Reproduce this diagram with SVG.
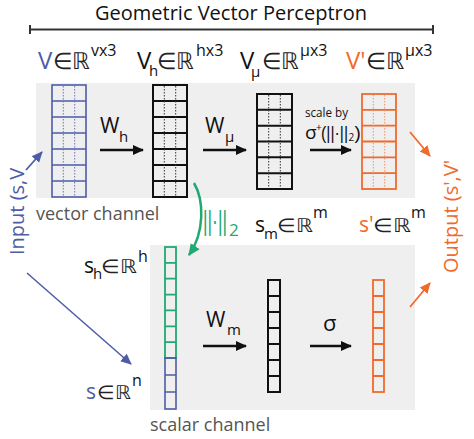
<svg xmlns="http://www.w3.org/2000/svg" width="474" height="439" viewBox="0 0 474 439">
<style>
text{font-family:"Open Sans","Liberation Sans",sans-serif;fill:#111}
.m{font-family:"DejaVu Sans",sans-serif;font-weight:200;fill:#222}
.bar{font-family:"Liberation Sans",sans-serif}
.blue{fill:#4e5ca6}.orange{fill:#f06a2c}.green{fill:#22a874}.gray{fill:#555}
.sup{font-size:16px}
.sub{font-size:15px}
.cellB{fill:none;stroke:#111;stroke-width:2}
.cellBl{fill:none;stroke:#4e5ca6;stroke-width:1.6}
.cellO{fill:none;stroke:#f06a2c;stroke-width:1.8}
.cellG{fill:none;stroke:#22a874;stroke-width:1.8}
.dotB{stroke:#333;stroke-width:1;stroke-dasharray:1.5,1.5}
.dotBl{stroke:#6b76b5;stroke-width:1;stroke-dasharray:1.5,1.5}
.dotO{stroke:#f4926a;stroke-width:1;stroke-dasharray:1.5,1.5}
.arr{stroke:#111;stroke-width:2.5;fill:none}
</style>
<defs>
<marker id="hk" markerUnits="userSpaceOnUse" markerWidth="12" markerHeight="12" refX="10" refY="5" orient="auto" viewBox="0 0 12 10"><path d="M0,0 L11,5 L0,10 Z" fill="#111"/></marker>
<marker id="hb" markerUnits="userSpaceOnUse" markerWidth="12" markerHeight="12" refX="10" refY="5" orient="auto" viewBox="0 0 12 10"><path d="M0,0 L11,5 L0,10 Z" fill="#4e5ca6"/></marker>
<marker id="ho" markerUnits="userSpaceOnUse" markerWidth="12" markerHeight="12" refX="10" refY="5" orient="auto" viewBox="0 0 12 10"><path d="M0,0 L11,5 L0,10 Z" fill="#f06a2c"/></marker>
<marker id="hg" markerUnits="userSpaceOnUse" markerWidth="13" markerHeight="13" refX="10" refY="5" orient="auto" viewBox="0 0 12 10"><path d="M0,0 L11,5 L0,10 Z" fill="#22a874"/></marker>
</defs>

<!-- title -->
<g id="title">
<text x="231" y="20" font-size="20" text-anchor="middle">Geometric Vector Perceptron</text>
<path d="M30,29.5 H433 M30,25 V34 M433,25 V34" stroke="#333" stroke-width="2" fill="none"/>
</g>

<!-- panels -->
<rect id="vector-panel" x="36" y="83" width="379" height="115" fill="#efefef"/>
<rect id="scalar-panel" x="150" y="245" width="265" height="165" fill="#efefef"/>
<text x="36" y="220" font-size="18" class="gray">vector channel</text>
<text x="150" y="431" font-size="18" class="gray">scalar channel</text>

<!-- V -->
<g id="V">
<rect class="cellBl" x="52" y="85" width="34" height="112"/>
<path class="cellBl" d="M52,101H86M52,117H86M52,133H86M52,149H86M52,165H86M52,181H86"/>
<path class="dotBl" d="M63.3,86V196M74.7,86V196"/>
<text x="38" y="69" font-size="24" class="blue">V</text>
<text x="53" y="69" font-size="23" class="m" textLength="37" lengthAdjust="spacingAndGlyphs">∈ℝ</text>
<text x="91" y="56" class="sup">vx3</text>
</g>

<!-- Vh -->
<g id="Vh">
<rect class="cellB" x="153" y="85" width="34" height="112"/>
<path class="cellB" d="M153,101H187M153,117H187M153,133H187M153,149H187M153,165H187M153,181H187"/>
<path class="dotB" d="M164.3,86V196M175.7,86V196"/>
<text y="69" font-size="24"><tspan x="137">V</tspan><tspan x="149" y="76" class="sub">h</tspan></text>
<text x="157" y="69" font-size="23" class="m" textLength="37" lengthAdjust="spacingAndGlyphs">∈ℝ</text>
<text x="196" y="56" class="sup">hx3</text>
</g>

<!-- Vmu -->
<g id="Vmu">
<rect class="cellB" x="257" y="94" width="35" height="95"/>
<path class="cellB" d="M257,109.8H292M257,125.7H292M257,141.5H292M257,157.3H292M257,173.2H292"/>
<path class="dotB" d="M268.7,95V188M280.3,95V188"/>
<text y="69" font-size="24"><tspan x="240">V</tspan><tspan x="251" y="77" class="sub">μ</tspan></text>
<text x="262" y="69" font-size="23" class="m" textLength="37" lengthAdjust="spacingAndGlyphs">∈ℝ</text>
<text x="300" y="56" class="sup">μx3</text>
</g>

<!-- V' -->
<g id="Vprime">
<rect class="cellO" x="362" y="94" width="34" height="95"/>
<path class="cellO" d="M362,109.8H396M362,125.7H396M362,141.5H396M362,157.3H396M362,173.2H396"/>
<path class="dotO" d="M373.3,95V188M384.7,95V188"/>
<text x="346" y="69" font-size="24" class="orange">V'</text>
<text x="366" y="69" font-size="23" class="m" textLength="38" lengthAdjust="spacingAndGlyphs">∈ℝ</text>
<text x="405" y="56" class="sup">μx3</text>
</g>

<!-- s_h -->
<g id="sh">
<rect class="cellG" x="165" y="247" width="11" height="111"/>
<path class="cellG" d="M165,262.9H176M165,278.7H176M165,294.6H176M165,310.4H176M165,326.3H176M165,342.1H176"/>
<text y="273" font-size="21"><tspan x="84">s</tspan><tspan x="93" y="279" class="sub">h</tspan></text>
<text x="101" y="273" font-size="19" class="m" textLength="36" lengthAdjust="spacingAndGlyphs">∈ℝ</text>
<text x="138" y="262" class="sup">h</text>
</g>

<!-- s -->
<g id="s">
<rect class="cellBl" x="165" y="358" width="11" height="51"/>
<path class="cellBl" d="M165,375H176M165,392H176"/>
<text x="86" y="399" font-size="21" class="blue">s</text>
<text x="97" y="399" font-size="19" class="m" textLength="34" lengthAdjust="spacingAndGlyphs">∈ℝ</text>
<text x="132" y="386" class="sup">n</text>
</g>

<!-- s_m -->
<g id="sm">
<rect class="cellB" x="268" y="280" width="12" height="112"/>
<path class="cellB" d="M268,296H280M268,312H280M268,328H280M268,344H280M268,360H280M268,376H280"/>
<text y="232" font-size="21"><tspan x="255">s</tspan><tspan x="264" y="239" class="sub">m</tspan></text>
<text x="277" y="232" font-size="19" class="m" textLength="36" lengthAdjust="spacingAndGlyphs">∈ℝ</text>
<text x="313" y="218" class="sup">m</text>
</g>

<!-- s' -->
<g id="sprime">
<rect class="cellO" x="373" y="280" width="11" height="112"/>
<path class="cellO" d="M373,296H384M373,312H384M373,328H384M373,344H384M373,360H384M373,376H384"/>
<text x="359" y="232" font-size="21" class="orange">s'</text>
<text x="373" y="232" font-size="19" class="m" textLength="38" lengthAdjust="spacingAndGlyphs">∈ℝ</text>
<text x="411" y="218" class="sup">m</text>
</g>

<!-- io labels -->
<text id="input" transform="translate(24,255) rotate(-90)" font-size="20" class="blue">Input (s,V</text>
<text id="output" transform="translate(458,273) rotate(-90)" font-size="20" class="orange">Output (s',V'</text>

<!-- connectors -->
<g id="connectors">
<line class="arr" x1="100" y1="150" x2="143" y2="150" marker-end="url(#hk)"/>
<line class="arr" x1="203" y1="150" x2="246" y2="150" marker-end="url(#hk)"/>
<line class="arr" x1="310" y1="150" x2="351" y2="150" marker-end="url(#hk)"/>
<line class="arr" x1="203" y1="346" x2="246" y2="346" marker-end="url(#hk)"/>
<line class="arr" x1="310" y1="346" x2="351" y2="346" marker-end="url(#hk)"/>
<line x1="26" y1="170" x2="42" y2="152" stroke="#4e5ca6" stroke-width="1.8" marker-end="url(#hb)"/>
<line x1="27" y1="273" x2="131" y2="364" stroke="#4e5ca6" stroke-width="1.5" marker-end="url(#hb)"/>
<line x1="410" y1="132" x2="430" y2="156" stroke="#f06a2c" stroke-width="1.8" marker-end="url(#ho)"/>
<line x1="410" y1="307" x2="430" y2="283" stroke="#f06a2c" stroke-width="1.8" marker-end="url(#ho)"/>
<path d="M194,183 C204,200 205,232 189,255" stroke="#22a874" stroke-width="2.5" fill="none" marker-end="url(#hg)"/>
</g>

<!-- connector labels -->
<g id="labels">
<text y="133" font-size="21"><tspan x="100">W</tspan><tspan x="119" y="142" class="sub">h</tspan></text>
<text y="133" font-size="21"><tspan x="205">W</tspan><tspan x="225" y="142" class="sub">μ</tspan></text>
<text x="305" y="117" font-size="12" textLength="43" lengthAdjust="spacingAndGlyphs">scale by</text>
<text x="305" y="139" font-size="19">σ</text>
<text x="316" y="131" font-size="10">+</text>
<text x="321" y="139" font-size="19" class="bar" textLength="27" lengthAdjust="spacingAndGlyphs">(||·||</text>
<text x="348.5" y="141" font-size="10">2</text>
<text x="354.5" y="139" font-size="19" class="bar">)</text>
<text y="327" font-size="21"><tspan x="206">W</tspan><tspan x="227" y="335" class="sub">m</tspan></text>
<text x="323" y="331" font-size="22">σ</text>
<text x="203" y="230" font-size="28" class="bar green" textLength="24" lengthAdjust="spacingAndGlyphs">||·||</text>
<text x="229" y="236" font-size="17" class="green">2</text>
</g>
</svg>
